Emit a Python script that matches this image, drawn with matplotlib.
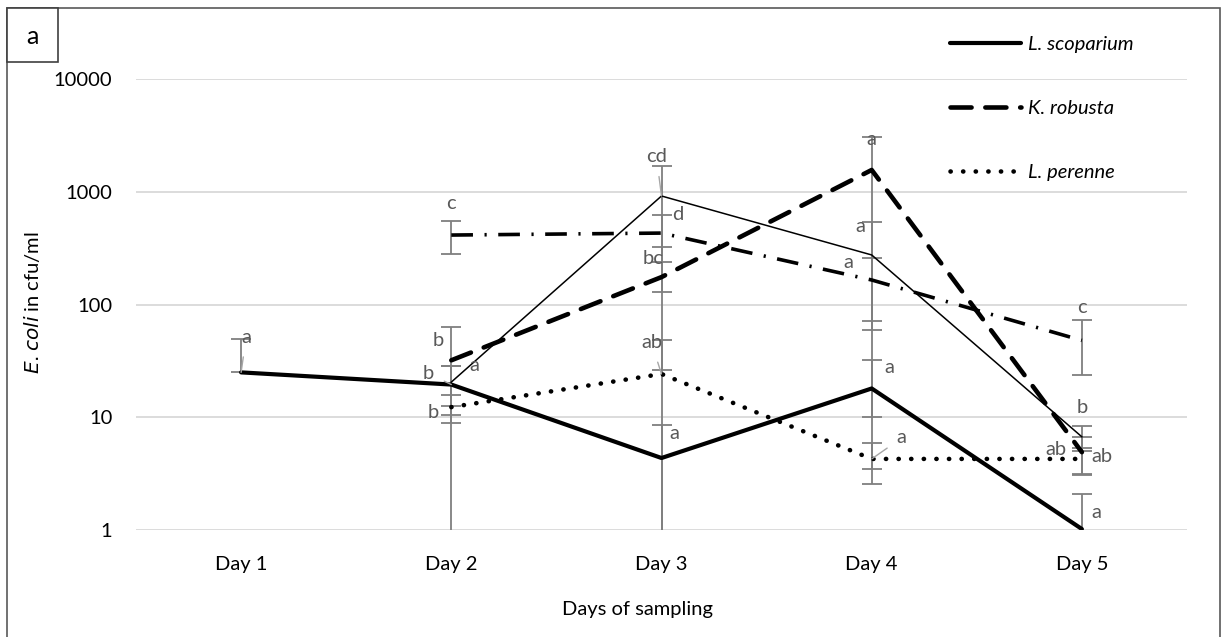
import numpy as np
import matplotlib.pyplot as plt
from matplotlib.patches import Rectangle

plt.rcParams['font.family'] = ['Lato', 'DejaVu Sans']

days = ['Day 1', 'Day 2', 'Day 3', 'Day 4', 'Day 5']
nan = np.nan

# means and error (lower, upper) per day
scoparium = [25, 19.5, 4.35, 18, 1.02]
scoparium_lo = [0, 9, 4.15, 14.5, 1.0]
scoparium_hi = [24, 9, 4.15, 14.5, 1.06]

robusta = [nan, 32, 175, 1560, 4.9]
robusta_lo = [nan, 31.5, 149, 1500, 1.8]
robusta_hi = [nan, 31.5, 149, 1500, 1.8]

perenne = [nan, 12.3, 24.2, 4.27, 4.27]
perenne_lo = [nan, 3.4, 23.8, 1.7, 1.1]
perenne_hi = [nan, 3.4, 23.8, 1.7, 1.1]

thin = [nan, 20.5, 917, 275, 6.7]
thin_lo = [nan, 8, 787, 265, 1.7]
thin_hi = [nan, 8, 787, 265, 1.7]

dashdot = [nan, 413, 430, 165, 48]
dashdot_lo = [nan, 135, 192, 93, 24.5]
dashdot_hi = [nan, 135, 192, 93, 24.5]

# significance letters: (series, day index, text, dx px, dy px, leader)
letters = [
    ('scoparium', 0, 'a', 5, 35, True),
    ('dashdot', 1, 'c', 0, 32, False),
    ('robusta', 1, 'b', -13, 20, False),
    ('scoparium', 1, 'b', -23, 11, True),
    ('thin', 1, 'a', 23, 17, False),
    ('perenne', 1, 'b', -18, -5, False),
    ('thin', 2, 'cd', -5, 39, True),
    ('dashdot', 2, 'd', 16, 19, False),
    ('robusta', 2, 'bc', -8, 19, False),
    ('perenne', 2, 'ab', -10, 31, True),
    ('scoparium', 2, 'a', 13, 25, False),
    ('robusta', 3, 'a', 0, 30, False),
    ('thin', 3, 'a', -11, 28, False),
    ('dashdot', 3, 'a', -23, 17, False),
    ('scoparium', 3, 'a', 18, 21, False),
    ('perenne', 3, 'a', 30, 21, True),
    ('dashdot', 4, 'c', 0, 33, False),
    ('thin', 4, 'b', 0, 29, False),
    ('robusta', 4, 'ab', -26, 3, False),
    ('perenne', 4, 'ab', 20, 2, False),
    ('scoparium', 4, 'a', 14, 17, False),
]

FS = 14.5
W, H = 1223, 637
fig = plt.figure(figsize=(W / 100, H / 100), dpi=100)
ax = fig.add_axes([136 / W, 1 - 530 / H, (1187 - 136) / W, (530 - 79) / H])

x = np.arange(len(days))
series = {
    'scoparium': (scoparium, scoparium_lo, scoparium_hi),
    'robusta': (robusta, robusta_lo, robusta_hi),
    'perenne': (perenne, perenne_lo, perenne_hi),
    'thin': (thin, thin_lo, thin_hi),
    'dashdot': (dashdot, dashdot_lo, dashdot_hi),
}

ebc = '#7f7f7f'
for name, (y, lo, hi) in series.items():
    ax.errorbar(x, y, yerr=[lo, hi], fmt='none', ecolor=ebc, elinewidth=1.3,
                capsize=7, capthick=1.3, zorder=2)

ax.plot(x, scoparium, color='black', lw=3.0, solid_capstyle='round',
        solid_joinstyle='round', label='L. scoparium', zorder=4)
ax.plot(x, robusta, color='black', lw=3.3, dashes=(4.6, 3.0),
        dash_capstyle='round', label='K. robusta', zorder=4)
ax.plot(x, perenne, color='black', lw=3.3, dashes=(0.05, 2.7),
        dash_capstyle='round', label='L. perenne', zorder=4)
ax.plot(x, thin, color='black', lw=1.1, label='_nolegend_', zorder=3)
ax.plot(x, dashdot, color='black', lw=2.6, dashes=(6, 3.2, 0.6, 3.2),
        label='_nolegend_', zorder=3)

for name, i, txt, dx, dy, leader in letters:
    yv = series[name][0][i]
    kw = {}
    if leader:
        kw['arrowprops'] = dict(arrowstyle='-', color='#a6a6a6', lw=1.0,
                                shrinkA=6, shrinkB=0)
    ax.annotate(txt, (x[i], yv), xytext=(dx, dy), textcoords='offset pixels',
                ha='center', va='center', fontsize=FS, color='#595959',
                zorder=5, **kw)

ax.set_yscale('log')
ax.set_ylim(1, 10000)
ax.set_xlim(-0.5, len(days) - 0.5)
ax.set_yticks([1, 10, 100, 1000, 10000])
ax.set_yticklabels(['1', '10', '100', '1000', '10000'])
ax.minorticks_off()
ax.set_xticks(x)
ax.set_xticklabels(days)
ax.tick_params(length=0, labelsize=FS, colors='#000000')
ax.tick_params(axis='x', pad=19)
ax.tick_params(axis='y', pad=17)
for s in ax.spines.values():
    s.set_visible(False)
ax.grid(axis='y', color='#d9d9d9', lw=1.3)
ax.set_axisbelow(True)

ax.set_xlabel('Days of sampling', fontsize=FS)
ax.xaxis.label.set_va('center')
ax.xaxis.set_label_coords((638 - 136) / (1187 - 136), -(610 - 530) / (530 - 79))
fig.text(32 / W, 1 - 303 / H, r'$\it{E.coli}$ in cfu/ml', rotation=90,
         ha='center', va='center', fontsize=FS)

leg = ax.legend(loc='upper left', bbox_to_anchor=(932 / W, 1 - 18 / H),
                bbox_transform=fig.transFigure, frameon=False,
                handlelength=3.5, handletextpad=0.35, labelspacing=2.32,
                prop={'style': 'italic', 'size': FS})

# chart border and panel letter box
fig.patches.append(Rectangle((7 / W, -0.05), (1220 - 7) / W, 1 - 8 / H + 0.05,
                             transform=fig.transFigure, fill=False,
                             edgecolor='#595959', lw=1.2))
fig.patches.append(Rectangle((7 / W, 1 - 62 / H), 51 / W, 54 / H,
                             transform=fig.transFigure, facecolor='white',
                             edgecolor='#404040', lw=1.2))
fig.text(32 / W, 1 - 37 / H, 'a', ha='center', va='center', fontsize=18)

fig.savefig('out.png', dpi=100)
